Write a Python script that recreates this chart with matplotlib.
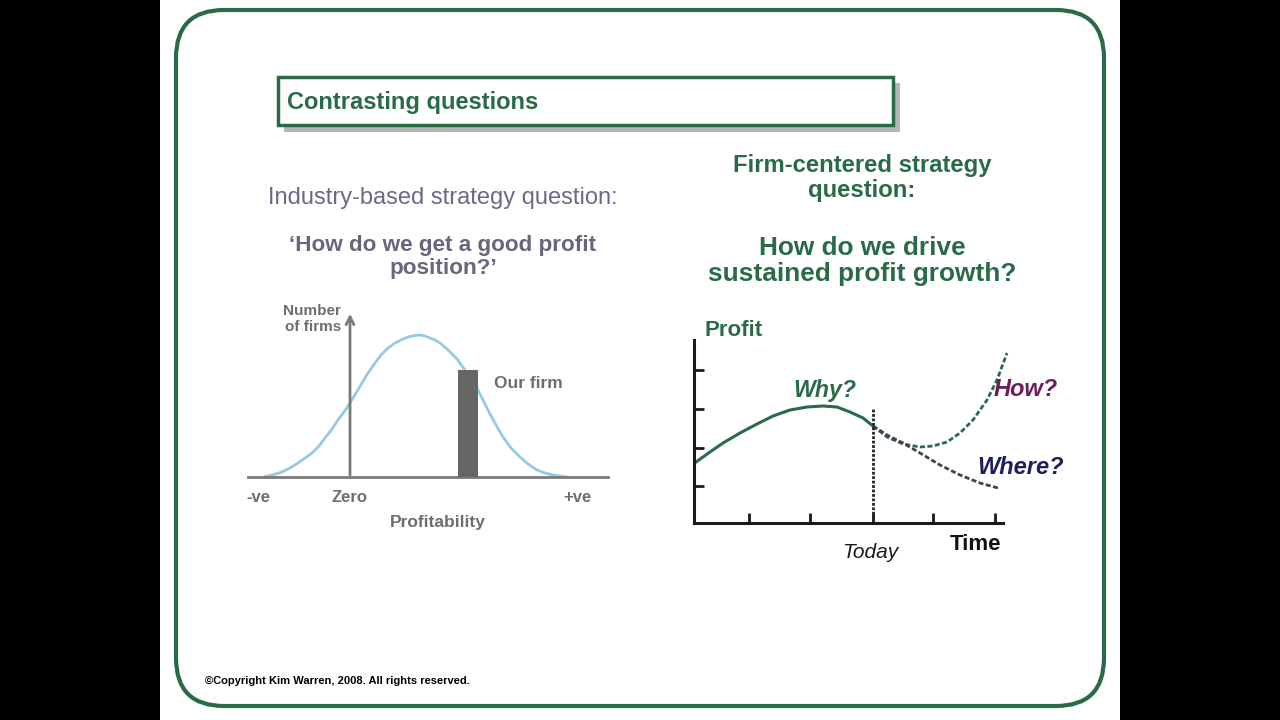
import matplotlib
matplotlib.use("Agg")
import matplotlib.pyplot as plt
from matplotlib.patches import FancyBboxPatch, Rectangle

plt.rcParams['font.family'] = ['Liberation Sans', 'DejaVu Sans']

# ---------------- data ----------------
# Left chart: distribution of firms by profitability (Zero at 0)
profit_x = [-85, -76, -68, -60, -52, -45, -38, -31, -25, -18, -12, -6, 0, 6, 12, 18, 25, 31, 38, 45,
            52, 58, 65, 70, 75, 80, 85, 90, 97, 102, 107, 112, 118, 123, 128, 134, 140, 146, 153,
            161, 170, 178, 187, 195, 203, 211, 217]
n_firms = [0.5, 2.5, 5, 9, 14, 19, 24, 31, 39, 48, 57, 65, 74, 84, 94, 104, 114, 122, 129, 134,
           137.5, 140, 141.5, 142, 141, 139, 137, 134, 128, 123, 118, 111, 103, 95, 87, 75, 63, 52, 40,
           29, 20, 13, 7, 4, 2, 0.8, 0]
our_firm_x = 117.5
our_firm_h = 107
left_tick_pos = [-92, 0, 227]
left_tick_labels = ['-ve', 'Zero', '+ve']

# Right chart: profit over time
hist_t = [2, 16, 29, 46, 63, 79, 96, 113, 129, 143, 156, 169, 179]
hist_p = [61, 71, 80, 90, 99, 107, 113, 116, 117, 116, 111, 105, 97]
how_t = [179, 193, 209, 226, 239, 253, 266, 279, 293, 303, 313]
how_p = [97, 86, 79, 76, 77, 81, 90, 103, 123, 143, 170]
where_t = [179, 193, 209, 226, 246, 266, 286, 304]
where_p = [97, 88, 80, 70, 58, 48, 40, 35]
today_t = 179
x_ticks = [55, 116, 179, 239, 301]
y_ticks = [37, 75, 114, 153]

GREEN = '#2a6b47'
GRAY = '#6e6e6e'

fig = plt.figure(figsize=(12.8, 7.2), dpi=100)
fig.patch.set_facecolor('black')

bg = fig.add_axes([0, 0, 1, 1])
bg.set_xlim(0, 1280)
bg.set_ylim(720, 0)
bg.axis('off')
bg.add_patch(Rectangle((160, 0), 960, 720, facecolor='white', edgecolor='none', zorder=0))
bg.add_patch(FancyBboxPatch((176, 10), 928, 696, boxstyle='round,pad=0,rounding_size=48',
                            facecolor='white', edgecolor=GREEN, linewidth=3, zorder=1))
# Title box with shadow
bg.add_patch(Rectangle((284, 83), 616, 49, facecolor='#b5b5b5', edgecolor='none', zorder=2))
bg.add_patch(Rectangle((278, 77), 615, 48, facecolor='white', edgecolor=GREEN, linewidth=2.5, zorder=3))
bg.text(287, 102, 'Contrasting questions', color=GREEN, fontsize=17, fontweight='bold',
        va='center', ha='left', zorder=4)

# Left texts
bg.text(443, 198, 'Industry-based strategy question:', color='#6a6a84', fontsize=17,
        ha='center', va='center', zorder=4)
bg.text(443, 257, '\u2018How do we get a good profit\nposition?\u2019', color='#66667e', fontsize=16.2,
        fontweight='bold', ha='center', va='center', linespacing=1.15, zorder=4)
# Right texts
bg.text(862, 178, 'Firm-centered strategy\nquestion:', color=GREEN, fontsize=17.2,
        fontweight='bold', ha='center', va='center', linespacing=1.12, zorder=4)
bg.text(862, 261, 'How do we drive\nsustained profit growth?', color=GREEN, fontsize=18.9,
        fontweight='bold', ha='center', va='center', linespacing=1.1, zorder=4)
# Copyright
bg.text(205, 681, '\u00a9Copyright Kim Warren, 2008. All rights reserved.', color='black',
        fontsize=8, fontweight='bold', ha='left', va='center', zorder=4)

# ---------------- left chart ----------------
ax1 = fig.add_axes([248 / 1280, (720 - 477) / 720, 360 / 1280, 170 / 720])
ax1.set_xlim(-102, 258)
ax1.set_ylim(0, 170)
ax1.patch.set_alpha(0)
for s in ['top', 'right', 'left']:
    ax1.spines[s].set_visible(False)
ax1.spines['bottom'].set_color('#7a7a7a')
ax1.spines['bottom'].set_linewidth(2)
ax1.plot(profit_x, n_firms, color='#92cbe3', linewidth=2, zorder=2, solid_joinstyle='round')
ax1.bar([our_firm_x], [our_firm_h], width=20, color='#666666', zorder=3)
ax1.annotate('', xy=(0, 166), xytext=(0, -1),
             arrowprops=dict(arrowstyle='->', color='#7a7a7a', lw=2, mutation_scale=14), zorder=4)
ax1.set_yticks([])
ax1.set_xticks(left_tick_pos, left_tick_labels)
ax1.tick_params(axis='x', length=0, pad=9, labelsize=12, labelcolor=GRAY)
for lab in ax1.get_xticklabels():
    lab.set_fontweight('bold')
ax1.text(88, -46, 'Profitability', ha='center', va='center', fontsize=12.5, fontweight='bold',
         color=GRAY)
ax1.text(-9, 158, 'Number\nof firms', ha='right', va='center', fontsize=11, fontweight='bold',
         color=GRAY, linespacing=1.15)
ax1.text(144, 94, 'Our firm', ha='left', va='center', fontsize=12.5, fontweight='bold', color=GRAY)

# ---------------- right chart ----------------
ax2 = fig.add_axes([694 / 1280, (720 - 523) / 720, 309 / 1280, 183 / 720])
ax2.set_xlim(0, 309)
ax2.set_ylim(0, 183)
ax2.patch.set_alpha(0)
for s in ['top', 'right']:
    ax2.spines[s].set_visible(False)
for s in ['left', 'bottom']:
    ax2.spines[s].set_color('#1a1a1a')
    ax2.spines[s].set_linewidth(2.2)
ax2.plot(hist_t, hist_p, color=GREEN, linewidth=2.2, clip_on=False, solid_joinstyle='round')
ax2.plot(how_t, how_p, color=GREEN, linewidth=2, linestyle=(0, (1.8, 0.9)), clip_on=False)
ax2.plot(where_t, where_p, color='#444444', linewidth=2, linestyle=(0, (1.8, 0.9)), clip_on=False)
ax2.vlines(today_t, 0, 114, colors='#222222', linewidth=2, linestyles=(0, (1, 0.6)))
ax2.set_xticks(x_ticks, [''] * len(x_ticks))
ax2.set_yticks(y_ticks, [''] * len(y_ticks))
ax2.tick_params(direction='in', length=7, width=2, color='#1a1a1a')
ax2.text(40, 192, 'Profit', ha='center', va='center', fontsize=16, fontweight='bold', color=GREEN)
ax2.text(131, 132, 'Why?', ha='center', va='center', fontsize=16.7, fontweight='bold',
         style='italic', color=GREEN)
ax2.text(332, 134, 'How?', ha='center', va='center', fontsize=17, fontweight='bold',
         style='italic', color='#6a1f58', clip_on=False)
ax2.text(327, 55, 'Where?', ha='center', va='center', fontsize=17, fontweight='bold',
         style='italic', color='#1d1f5e', clip_on=False)
ax2.text(176, -29, 'Today', ha='center', va='center', fontsize=15, style='italic', color='#1a1a1a')
ax2.text(281, -21, 'Time', ha='center', va='center', fontsize=16, fontweight='bold', color='#111111')

fig.savefig('out.png', dpi=100, facecolor=fig.get_facecolor())
